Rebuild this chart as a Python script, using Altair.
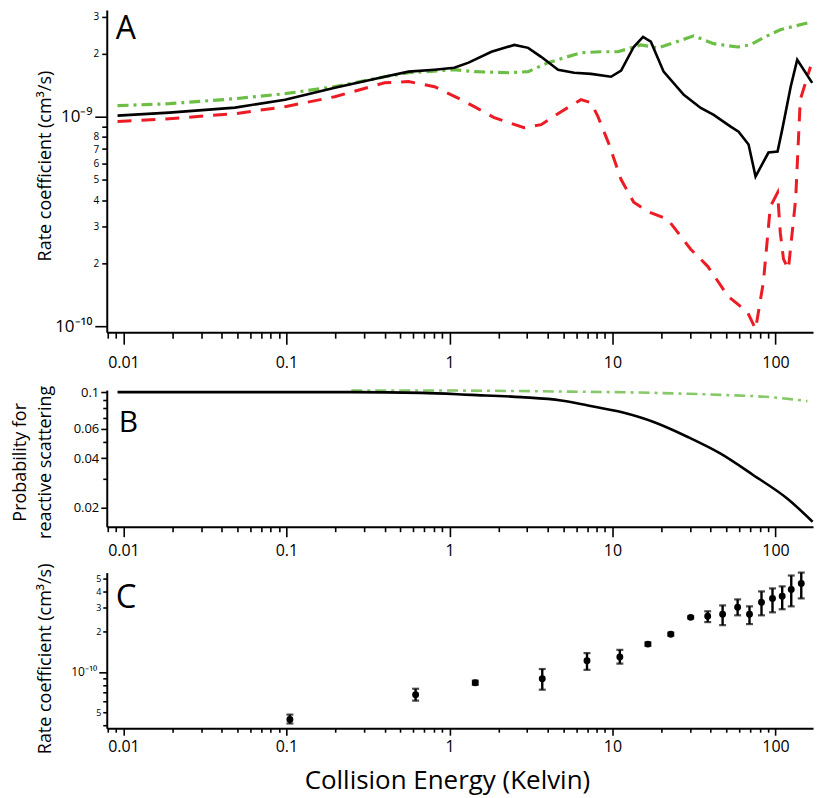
import json
import altair as alt
import pandas as pd

FONT = "Open Sans"
W = 708
HA, HB, HC = 323, 137, 156

# ---------------- x axis (shared) ----------------
x_tick_values = [0.008, 0.009, 0.01, 0.02, 0.03, 0.04, 0.05, 0.06, 0.07, 0.08, 0.09,
                 0.1, 0.2, 0.3, 0.4, 0.5, 0.6, 0.7, 0.8, 0.9,
                 1, 2, 3, 4, 5, 6, 7, 8, 9,
                 10, 20, 30, 40, 50, 60, 70, 80, 90, 100]
x_decades = [0.01, 0.1, 1, 10, 100]
x_decade_labels = ["0.01", "0.1", "1", "10", "100"]
x_domain = [0.0079, 170]

# ---------------- Panel A ----------------
a_black_E = [0.0092, 0.0191, 0.0484, 0.098, 0.198, 0.40, 0.561, 0.81, 1.07, 1.31, 1.81, 2.50,
             3.04, 3.65, 4.64, 5.82, 7.39, 9.80, 11.3, 13.5, 15.4, 17.2, 20.6, 27.4, 34.8,
             41.8, 53.1, 59.4, 68.4, 75.5, 90.6, 103, 110, 124, 136, 168]
a_black_k = [1.011e-9, 1.045e-9, 1.104e-9, 1.205e-9, 1.375e-9, 1.55e-9, 1.64e-9, 1.675e-9,
             1.71e-9, 1.81e-9, 2.04e-9, 2.20e-9, 2.13e-9, 1.93e-9, 1.675e-9, 1.62e-9,
             1.60e-9, 1.55e-9, 1.66e-9, 2.15e-9, 2.40e-9, 2.28e-9, 1.64e-9, 1.27e-9,
             1.10e-9, 1.02e-9, 8.96e-10, 8.48e-10, 7.36e-10, 5.18e-10, 6.74e-10, 6.81e-10,
             8.67e-10, 1.39e-9, 1.87e-9, 1.45e-9]

a_red_E = [0.0092, 0.0191, 0.0484, 0.098, 0.198, 0.40, 0.561, 0.81, 1.18, 1.42, 1.88, 2.87,
           3.65, 4.84, 6.41, 7.39, 8.15, 9.44, 11.3, 13.5, 16.4, 21.8, 25.1, 30.2, 38.4,
           51.2, 67.4, 75.5, 84.3, 93.0, 103, 107, 112, 120, 133, 142, 164]
a_red_k = [9.47e-10, 9.78e-10, 1.033e-9, 1.116e-9, 1.245e-9, 1.45e-9, 1.47e-9, 1.39e-9,
           1.205e-9, 1.116e-9, 9.89e-10, 8.86e-10, 9.16e-10, 1.056e-9, 1.205e-9, 1.166e-9,
           1.0e-9, 7.52e-10, 5.01e-10, 3.90e-10, 3.53e-10, 3.24e-10, 2.81e-10, 2.33e-10,
           1.93e-10, 1.39e-10, 1.166e-10, 9.68e-11, 1.62e-10, 3.72e-10, 4.34e-10, 2.81e-10,
           2.09e-10, 1.87e-10, 4.03e-10, 1.205e-9, 1.73e-9]

a_green_E = [0.0092, 0.0191, 0.0484, 0.098, 0.198, 0.40, 0.561, 1.07, 1.42, 2.30, 3.04, 4.03,
             6.41, 8.50, 10.8, 14.9, 19.0, 23.7, 31.5, 41.8, 58.6, 70.1, 84.3, 107, 157]
a_green_k = [1.128e-9, 1.153e-9, 1.218e-9, 1.287e-9, 1.39e-9, 1.55e-9, 1.62e-9, 1.675e-9,
             1.64e-9, 1.62e-9, 1.64e-9, 1.81e-9, 2.02e-9, 2.04e-9, 2.04e-9, 2.20e-9,
             2.13e-9, 2.25e-9, 2.43e-9, 2.23e-9, 2.15e-9, 2.20e-9, 2.38e-9, 2.60e-9, 2.80e-9]

yA_values = [1e-10, 2e-10, 3e-10, 4e-10, 5e-10, 6e-10, 7e-10, 8e-10, 9e-10, 1e-9, 2e-9, 3e-9]
yA_labels = ["10\u207b\u00b9\u2070", "2", "3", "4", "5", "6", "7", "8", "", "10\u207b\u2079", "2", "3"]
yA_decades = [1e-10, 1e-9]
yA_domain = [9.36e-11, 3.23e-9]

# ---------------- Panel B ----------------
b_black_E = [0.0092, 0.25, 0.674, 1.36, 2.76, 4.84, 7.08, 11.3, 17.9, 29.0, 46.1, 73.3, 118, 169]
b_black_p = [0.1, 0.1, 0.099, 0.0963, 0.0933, 0.0891, 0.0831, 0.0758, 0.066, 0.0536, 0.0425,
             0.0315, 0.0228, 0.0165]
b_green_E = [0.25, 0.674, 4.38, 17.9, 46.1, 93, 157]
b_green_p = [0.1024, 0.1024, 0.101, 0.099, 0.0963, 0.0933, 0.0883]

yB_values = [0.02, 0.03, 0.04, 0.05, 0.06, 0.07, 0.08, 0.09, 0.1]
yB_labels = ["0.02", "", "0.04", "", "0.06", "", "", "", "0.1"]
yB_domain = [0.0154, 0.103]

# ---------------- Panel C ----------------
c_E = [0.105, 0.62, 1.44, 3.71, 6.98, 11.1, 16.5, 22.8, 30.2, 38.4, 47.4, 58.6, 69.3, 82.1,
       95.9, 110, 125, 144]
c_k = [4.41e-11, 6.76e-11, 8.3e-11, 8.9e-11, 1.21e-10, 1.29e-10, 1.61e-10, 1.91e-10, 2.55e-10,
       2.60e-10, 2.69e-10, 3.03e-10, 2.69e-10, 3.30e-10, 3.53e-10, 3.66e-10, 4.12e-10, 4.56e-10]
c_lo = [4.12e-11, 6.10e-11, 8.0e-11, 7.36e-11, 1.035e-10, 1.15e-10, 1.56e-10, 1.86e-10, 2.5e-10,
        2.35e-10, 2.23e-10, 2.64e-10, 2.27e-10, 2.64e-10, 2.78e-10, 2.93e-10, 3.08e-10, 3.53e-10]
c_hi = [4.80e-11, 7.48e-11, 8.6e-11, 1.05e-10, 1.38e-10, 1.46e-10, 1.66e-10, 1.96e-10, 2.6e-10,
        2.83e-10, 3.13e-10, 3.47e-10, 3.08e-10, 3.98e-10, 4.19e-10, 4.34e-10, 5.23e-10, 5.5e-10]

yC_values = [4e-11, 5e-11, 6e-11, 7e-11, 8e-11, 9e-11, 1e-10, 2e-10, 3e-10, 4e-10, 5e-10]
yC_labels = ["", "5", "", "", "", "", "10\u207b\u00b9\u2070", "2", "3", "4", "5"]
yC_domain = [3.8e-11, 5.5e-10]

RED = "#ED1C24"
GREEN = "#6CBE45"
GREEN_B = "#86C86A"


def js(a):
    return json.dumps(a, ensure_ascii=False)


def lookup_expr(values, labels):
    return f"{js(labels)}[indexof({js(values)}, datum.value)] || ''"


def is_in(values):
    return f"indexof({js(values)}, datum.value) >= 0"


def x_axis(long_t, short_t, pad, title=None, **kw):
    return alt.Axis(values=x_tick_values,
                    labelExpr=lookup_expr(x_decades, x_decade_labels),
                    tickSize={"condition": {"test": is_in(x_decades), "value": long_t}, "value": short_t},
                    labelPadding=pad, labelFontSize=16, labelFlush=False, labelOverlap=False,
                    title=title, **kw)


def x_enc(axis):
    return alt.X("E:Q", scale=alt.Scale(type="log", domain=x_domain, nice=False), axis=axis)


def series_df(E, v, name, col="v"):
    return pd.DataFrame({"E": E, col: v, "s": name})


def letter(t, x, y, size):
    return alt.Chart(pd.DataFrame({"t": [t]})).mark_text(
        font=FONT, fontSize=size, align="left", baseline="alphabetic", color="black"
    ).encode(text="t:N", x=alt.value(x), y=alt.value(y))


# ---- A ----
dfA = pd.concat([series_df(a_green_E, a_green_k, "green"),
                 series_df(a_red_E, a_red_k, "red"),
                 series_df(a_black_E, a_black_k, "black")])
yA_axis = alt.Axis(values=yA_values, labelExpr=lookup_expr(yA_values, yA_labels),
                   tickSize={"condition": {"test": is_in(yA_decades), "value": 12}, "value": 5},
                   labelFontSize={"condition": {"test": is_in(yA_decades), "value": 17}, "value": 10},
                   labelPadding=3, labelOverlap=False, labelFlush=False,
                   title="Rate coefficient (cm\u00b3/s)", titleFontSize=18,
                   titleX=-61, titleY=156, titleBaseline="middle", titleAlign="center")
baseA = alt.Chart(dfA).encode(
    x=x_enc(x_axis(12, 6, 10)),
    y=alt.Y("v:Q", scale=alt.Scale(type="log", domain=yA_domain, nice=False), axis=yA_axis),
)
gA = baseA.transform_filter("datum.s == 'green'").mark_line(color=GREEN, strokeWidth=3.2, strokeDash=[11, 5, 3, 5])
rA = baseA.transform_filter("datum.s == 'red'").mark_line(color=RED, strokeWidth=3, strokeDash=[14, 10])
kA = baseA.transform_filter("datum.s == 'black'").mark_line(color="black", strokeWidth=2.6)
chartA = alt.layer(gA, rA, kA, letter("A", 9, 29, 32)).properties(width=W, height=HA)

# ---- B ----
dfB = pd.concat([series_df(b_green_E, b_green_p, "green"),
                 series_df(b_black_E, b_black_p, "black")])
yB_axis = alt.Axis(values=yB_values, labelExpr=lookup_expr(yB_values, yB_labels),
                   tickSize={"condition": {"test": is_in([0.02, 0.04, 0.06, 0.1]), "value": 6}, "value": 4},
                   labelFontSize=13, labelPadding=2, labelOverlap=False, labelFlush=False,
                   title=["Probability for", "reactive scattering"], titleFontSize=18,
                   titleLineHeight=25, titleX=-86, titleY=72, titleBaseline="middle", titleAlign="center")
baseB = alt.Chart(dfB).encode(
    x=x_enc(x_axis(10, 5, 6)),
    y=alt.Y("v:Q", scale=alt.Scale(type="log", domain=yB_domain, nice=False), axis=yB_axis),
)
gB = baseB.transform_filter("datum.s == 'green'").mark_line(color=GREEN_B, strokeWidth=2.6, strokeDash=[11, 5, 3, 5], interpolate="monotone")
kB = baseB.transform_filter("datum.s == 'black'").mark_line(color="black", strokeWidth=2.6, interpolate="monotone")
chartB = alt.layer(gB, kB, letter("B", 12, 42, 30)).properties(width=W, height=HB)

# ---- C ----
dfC = pd.DataFrame({"E": c_E, "v": c_k, "lo": c_lo, "hi": c_hi})
yC_axis = alt.Axis(values=yC_values, labelExpr=lookup_expr(yC_values, yC_labels),
                   tickSize={"condition": {"test": is_in([1e-10]), "value": 8}, "value": 4},
                   labelFontSize={"condition": {"test": is_in([1e-10]), "value": 12}, "value": 9},
                   labelPadding=2, labelOverlap=False, labelFlush=False,
                   title="Rate coefficient (cm\u00b3/s)", titleFontSize=18,
                   titleX=-61, titleY=86, titleBaseline="middle", titleAlign="center")
yC_scale = alt.Scale(type="log", domain=yC_domain, nice=False)
xC = x_enc(x_axis(7, 4, 3, title="Collision Energy (Kelvin)", titleFontSize=26,
                  titleX=341, titleY=60, titleBaseline="alphabetic", titleAlign="center"))
errC = alt.Chart(dfC).mark_errorbar(ticks={"size": 7, "thickness": 2.2}, color="black", thickness=2.4).encode(
    x=xC, y=alt.Y("lo:Q", scale=yC_scale, axis=yC_axis), y2="hi:Q")
ptsC = alt.Chart(dfC).mark_circle(size=48, color="black", opacity=1).encode(
    x=xC, y=alt.Y("v:Q", scale=yC_scale, axis=yC_axis))
chartC = alt.layer(errC, ptsC, letter("C", 9, 36, 33)).properties(width=W, height=HC)

top = alt.vconcat(chartA, chartB, spacing=15)
chart = alt.vconcat(top, chartC, spacing=4).properties(
    padding={"left": 4, "top": 1, "right": 4, "bottom": 4}
).configure_view(stroke=None).configure_axis(
    grid=False, domainColor="black", domainWidth=2, tickColor="black", tickWidth=1.6,
    labelColor="black", labelFont=FONT, titleFont=FONT, titleColor="black",
    titleFontWeight="normal",
)

chart.save("out.html", embed_options={"renderer": "svg", "actions": False})
